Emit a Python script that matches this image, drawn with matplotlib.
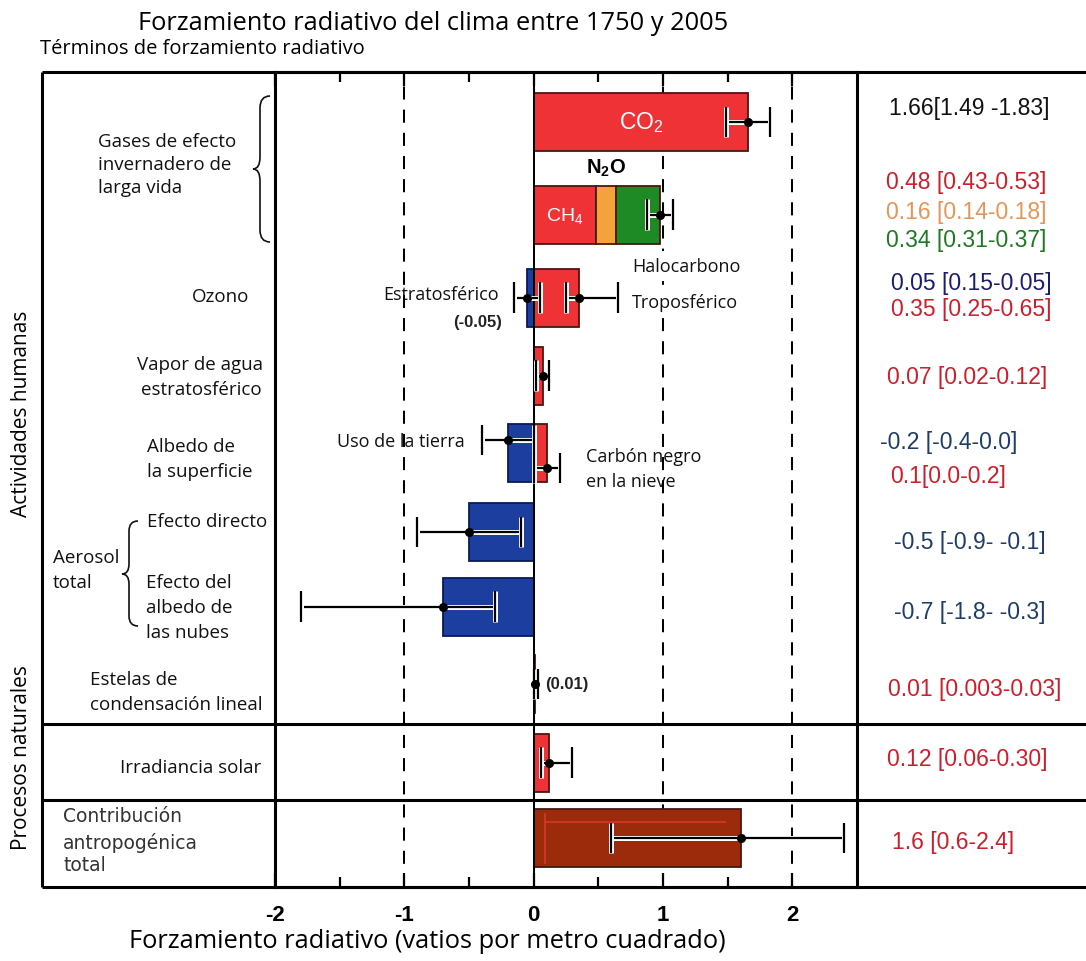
import matplotlib
matplotlib.use("Agg")
import matplotlib.pyplot as plt
import matplotlib.patheffects as pe
from matplotlib.path import Path
from matplotlib.patches import PathPatch
from matplotlib.ticker import FixedLocator

plt.rcParams['font.family'] = ['Open Sans', 'DejaVu Sans']

# ---------------------------------------------------------------- data
# Radiative forcing terms 1750-2005 (W m-2): best estimate and uncertainty range
terms = ["CO2", "CH4", "N2O", "Halocarbonos",
         "Ozono estratosférico", "Ozono troposférico",
         "Vapor de agua estratosférico",
         "Uso de la tierra", "Carbón negro en la nieve",
         "Aerosol: efecto directo", "Aerosol: albedo de las nubes",
         "Estelas de condensación", "Irradiancia solar",
         "Contribución antropogénica total"]
best = [1.66, 0.48, 0.16, 0.34, -0.05, 0.35, 0.07, -0.2, 0.1, -0.5, -0.7, 0.01, 0.12, 1.6]
low = [1.49, 0.43, 0.14, 0.31, -0.15, 0.25, 0.02, -0.4, 0.0, -0.9, -1.8, 0.003, 0.06, 0.6]
high = [1.83, 0.53, 0.18, 0.37, 0.05, 0.65, 0.12, 0.0, 0.2, -0.1, -0.3, 0.03, 0.30, 2.4]

# combined range of the long-lived non-CO2 greenhouse gases (CH4 + N2O + halocarbons)
ghg_range = [0.88, 1.08]

value_labels = ["1.66[1.49 -1.83]", "0.48 [0.43-0.53]", "0.16 [0.14-0.18]",
                "0.34 [0.31-0.37]", "0.05 [0.15-0.05]", "0.35 [0.25-0.65]",
                "0.07 [0.02-0.12]", "-0.2 [-0.4-0.0]", "0.1[0.0-0.2]",
                "-0.5 [-0.9- -0.1]", "-0.7 [-1.8- -0.3]", "0.01 [0.003-0.03]",
                "0.12 [0.06-0.30]", "1.6 [0.6-2.4]"]

x_ticks = [-2, -1, 0, 1, 2]
x_tick_labels = ["-2", "-1", "0", "1", "2"]

# ---------------------------------------------------------------- styles
RED, ORANGE, GREEN, BLUE, BROWN = "#ee3236", "#f4a33c", "#1d8a25", "#1c3e9e", "#9c2b0c"
bar_colors = [RED, RED, ORANGE, GREEN, BLUE, RED, RED, BLUE, RED, BLUE, BLUE, RED, RED, BROWN]
edge_colors = ["#4a1712" if c != BLUE else "#0b1a55" for c in bar_colors]

T_RED, T_ORANGE, T_GREEN, T_NAVY, T_SLATE = "#cc1f2c", "#e49558", "#1d7a22", "#1c1c6e", "#1f3d68"
value_colors = ["#111111", T_RED, T_ORANGE, T_GREEN, T_NAVY, T_RED, T_RED,
                T_SLATE, T_RED, T_SLATE, T_SLATE, T_RED, T_RED, T_RED]

# ---------------------------------------------------------------- layout (pixels)
W, H = 1086, 962
PL, PR, PT, PB = 275, 857, 73, 888          # plot panel
FL = 42                                      # left edge of the label panel
SEP = [725, 801]                             # horizontal section separators
row_y = [123, 215.5, 298.5, 376.5, 454, 533, 607.5, 685, 763.5, 839]
term_row = [0, 1, 1, 1, 2, 2, 3, 4, 4, 5, 6, 7, 8, 9]
err_dy = [0, 0, 0, 0, 0, 0, 0, -13, 15, 0, 0, 0, 0, 0]
BAR_H = 58
ghg_stack = [1, 2, 3]

value_pos = [(889, 109), (886, 183), (886, 213), (886, 241), (891, 284), (891, 310),
             (887, 378), (880, 443), (890, 477), (894, 543), (894, 613), (888, 690),
             (887, 760), (892, 843)]

fig = plt.figure(figsize=(W / 100, H / 100), dpi=100)
bg = fig.add_axes([0, 0, 1, 1])
bg.set_xlim(0, W)
bg.set_ylim(H, 0)
bg.axis("off")

ax = fig.add_axes([PL / W, 1 - PB / H, (PR - PL) / W, (PB - PT) / H])
ax.set_xlim(-2, 2.5)
ax.set_ylim(PB, PT)
ax.patch.set_visible(False)

# ---------------------------------------------------------------- frame
FRAME_LW = 2.2
for y in [PT] + SEP + [PB]:
    bg.plot([FL, W], [y, y], color="k", lw=FRAME_LW, solid_capstyle="butt")
bg.plot([FL, FL], [PT, PB], color="k", lw=FRAME_LW, solid_capstyle="butt")
for s in ax.spines.values():
    s.set_linewidth(FRAME_LW)

# reference lines
for v in [-1, 1, 2]:
    ax.axvline(v, color="k", lw=1.45, ls=(0, (6.5, 5)), zorder=1)
ax.axvline(0, color="k", lw=1.45, zorder=4)

# ---------------------------------------------------------------- bars
lefts = [0.0] * len(best)
for k in range(1, len(ghg_stack)):
    lefts[ghg_stack[k]] = lefts[ghg_stack[k - 1]] + best[ghg_stack[k - 1]]

bars = ax.barh([row_y[r] for r in term_row], best, left=lefts, height=BAR_H,
               color=bar_colors, edgecolor=edge_colors, linewidth=1.3, zorder=3)

# inner outline of the total anthropogenic bar
tot = bars[-1]
tx0, ty0 = tot.get_x(), tot.get_y()
tx1, ty1 = tx0 + tot.get_width(), ty0 + tot.get_height()
ax.plot([tx0 + 0.09, tx1 - 0.12], [ty0 + 13, ty0 + 13], color="#d4342a", lw=1.3, zorder=4)
ax.plot([tx0 + 0.09, tx0 + 0.09], [ty0 + 5, ty1 - 4], color="#d4342a", lw=1.3, zorder=4)

halo = [pe.Stroke(linewidth=3.6, foreground="white"), pe.Normal()]


def draw_err(v, lo, hi, y):
    eb = ax.errorbar([v], [y], xerr=[[v - lo], [hi - v]], fmt="o", ms=5.5,
                     mfc="k", mec="k", ecolor="k", elinewidth=1.6,
                     capsize=11, capthick=1.6, zorder=6)
    for art in list(eb[1]) + list(eb[2]):
        art.set_path_effects(halo)


for i in range(len(best)):
    if i in ghg_stack:
        continue
    draw_err(best[i], low[i], high[i], row_y[term_row[i]] + err_dy[i])
draw_err(sum(best[i] for i in ghg_stack), ghg_range[0], ghg_range[1], row_y[1])

# gas names on the bars
ax.text(best[0] / 2, row_y[0], r"$\mathregular{CO_2}$", color="white", fontsize=16.5,
        family="Liberation Sans", ha="center", va="center", zorder=7)
ax.text(best[1] / 2, row_y[1], r"$\mathregular{CH_4}$", color="white", fontsize=14,
        family="Liberation Sans", ha="center", va="center", zorder=7)
ax.text(lefts[2] + best[2] / 2, 168, r"$\mathregular{N_2O}$", color="k", fontsize=14.5,
        family="Liberation Sans", fontweight="bold", ha="center", va="center", zorder=7)

# ---------------------------------------------------------------- axis
ax.set_xticks(x_ticks)
ax.set_xticklabels(x_tick_labels, family="Liberation Sans", fontweight="bold", fontsize=16)
ax.xaxis.set_minor_locator(FixedLocator([-1.5, -0.5, 0.5, 1.5]))
ax.tick_params(axis="x", which="both", direction="in", top=True, bottom=True, width=1.6)
ax.tick_params(axis="x", which="major", length=10, pad=12)
ax.tick_params(axis="x", which="minor", length=7)
ax.set_yticks([])
ax.set_xlabel("Forzamiento radiativo (vatios por metro cuadrado)", fontsize=18.3,
              va="center")
ax.xaxis.set_label_coords((427 - PL) / (PR - PL), -(942 - PB) / (PB - PT))

# ---------------------------------------------------------------- titles
bg.text(138, 23, "Forzamiento radiativo del clima entre 1750 y 2005",
        fontsize=18.3, ha="left", va="center")
bg.text(40, 49, "Términos de forzamiento radiativo", fontsize=14.5, ha="left", va="center")

# ---------------------------------------------------------------- label panel
LBL = 13.5
left_lines = [
    ("Gases de efecto", 98, 142, "left"), ("invernadero de", 98, 165, "left"),
    ("larga vida", 98, 188, "left"),
    ("Ozono", 249, 297, "right"),
    ("Vapor de agua", 200, 365, "center"), ("estratosférico", 201, 390, "center"),
    ("Albedo de", 147, 447, "left"), ("la superficie", 147, 472, "left"),
    ("Efecto directo", 147, 522, "left"),
    ("Aerosol", 53, 558, "left"), ("total", 53, 583, "left"),
    ("Efecto del", 146, 583, "left"), ("albedo de", 146, 608, "left"),
    ("las nubes", 146, 633, "left"),
    ("Estelas de", 90, 680, "left"), ("condensación lineal", 90, 705, "left"),
    ("Irradiancia solar", 120, 768, "left"),
]
for txt, x, y, ha in left_lines:
    bg.text(x, y, txt, fontsize=LBL, ha=ha, va="center", color="#111111")

for txt, y in [("Contribución", 817), ("antropogénica", 843), ("total", 866)]:
    bg.text(63, y, txt, fontsize=13.5, family="DejaVu Sans", ha="left", va="center",
            color="#333333")

bg.text(22, 414, "Actividades humanas", fontsize=15, rotation=90, ha="center", va="center")
bg.text(22, 758, "Procesos naturales", fontsize=15, rotation=90, ha="center", va="center")


def brace(x_tip, x_spine, x_end, y_top, y_mid, y_bot, r=12):
    verts = [(x_end, y_top), (x_spine, y_top), (x_spine, y_top + r),
             (x_spine, y_mid - r), (x_spine, y_mid), (x_tip, y_mid),
             (x_spine, y_mid), (x_spine, y_mid + r),
             (x_spine, y_bot - r), (x_spine, y_bot), (x_end, y_bot)]
    codes = [Path.MOVETO, Path.CURVE3, Path.CURVE3, Path.LINETO, Path.CURVE3, Path.CURVE3,
             Path.CURVE3, Path.CURVE3, Path.LINETO, Path.CURVE3, Path.CURVE3]
    bg.add_patch(PathPatch(Path(verts, codes), fill=False, lw=1.2, ec="#111111"))


brace(253, 260, 270, 97, 170, 243)
brace(122, 129, 138, 522, 575, 627, r=10)

# ---------------------------------------------------------------- annotations in the plot
NOTE = dict(fontsize=13, va="center", color="#111111")
# these two sit over the dashed line at +1 and hide it
for txt, y in [("Halocarbono", 267), ("Troposférico", 303)]:
    ax.text(632, y, txt, ha="left", transform=bg.transData, clip_on=False, zorder=8,
            bbox=dict(fc="white", ec="none", pad=4), **NOTE)
bg.text(383, 295, "Estratosférico", ha="left", **NOTE)
bg.text(465, 442, "Uso de la tierra", ha="right", **NOTE)
bg.text(586, 457, "Carbón negro", ha="left", **NOTE)
bg.text(586, 482, "en la nieve", ha="left", **NOTE)
bg.text(502, 323, "(-0.05)", ha="right", va="center", fontsize=12,
        family="Liberation Sans", fontweight="bold", color="#222222")
bg.text(545, 685, "(0.01)", ha="left", va="center", fontsize=12,
        family="Liberation Sans", fontweight="bold", color="#222222")

# ---------------------------------------------------------------- value column
for txt, col, (x, y) in zip(value_labels, value_colors, value_pos):
    bg.text(x, y, txt, color=col, fontsize=16.5, family="Liberation Sans",
            ha="left", va="center")

fig.savefig("out.png", dpi=100)
